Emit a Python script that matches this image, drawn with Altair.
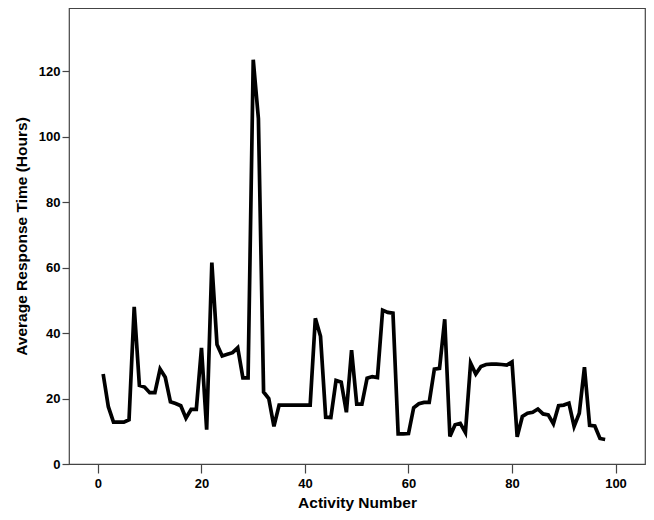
import altair as alt
import pandas as pd

activity = list(range(1, 99))
response_hours = [
    27.5, 17.5, 12.8, 12.8, 12.8, 13.5, 48.0, 24.0, 23.5, 21.8,
    21.8, 29.0, 26.5, 19.0, 18.5, 17.8, 14.0, 16.7, 16.7, 35.5,
    10.5, 61.5, 36.5, 33.0, 33.5, 34.0, 35.5, 26.3, 26.3, 123.5,
    105.5, 22.0, 20.0, 11.5, 18.0, 18.0, 18.0, 18.0, 18.0, 18.0,
    18.0, 44.5, 39.0, 14.3, 14.2, 25.5, 25.0, 15.8, 34.8, 18.3,
    18.3, 26.2, 26.7, 26.4, 47.0, 46.3, 46.1, 9.2, 9.2, 9.3,
    17.2, 18.4, 18.8, 18.8, 29.0, 29.2, 44.2, 8.4, 12.0, 12.4,
    9.6, 30.8, 27.5, 29.8, 30.4, 30.5, 30.5, 30.4, 30.2, 31.2,
    8.3, 14.5, 15.5, 15.8, 16.8, 15.3, 15.0, 12.3, 17.8, 18.0,
    18.6, 11.5, 15.5, 29.6, 11.8, 11.6, 7.8, 7.5,
]
x_ticks = [0, 20, 40, 60, 80, 100]
y_ticks = [0, 20, 40, 60, 80, 100, 120]

df = pd.DataFrame({"activity": activity, "hours": response_hours})

FONT = "Liberation Sans"

chart = alt.Chart(df).mark_line(
    color="black", strokeWidth=3.7, strokeJoin="miter", clip=True
).encode(
    x=alt.X(
        "activity:Q",
        scale=alt.Scale(domain=[-5.6, 105.7], nice=False, zero=False),
        axis=alt.Axis(
            title="Activity Number", values=x_ticks, format="d",
            tickSize=9, labelPadding=4, titlePadding=5, grid=False,
            domain=False,
        ),
    ),
    y=alt.Y(
        "hours:Q",
        scale=alt.Scale(domain=[0, 139.3], nice=False),
        axis=alt.Axis(
            title="Average Response Time (Hours)", values=y_ticks, format="d",
            tickSize=7, labelPadding=2, titlePadding=9, grid=False,
            domain=False,
        ),
    ),
).properties(
    width=576,
    height=456,
    autosize=alt.AutoSizeParams(type="none"),
    padding={"left": 61, "top": 0, "right": 1, "bottom": 54},
).configure_view(
    stroke="#444444", strokeWidth=1.2, fill="white"
).configure_axis(
    labelFont=FONT, labelFontSize=13, labelFontWeight="bold", labelColor="black",
    titleFont=FONT, titleFontSize=15.5, titleFontWeight="bold", titleColor="black",
    tickColor="#444444", tickWidth=1.2,
)

chart.save("out.html", embed_options={"renderer": "svg", "actions": False})
